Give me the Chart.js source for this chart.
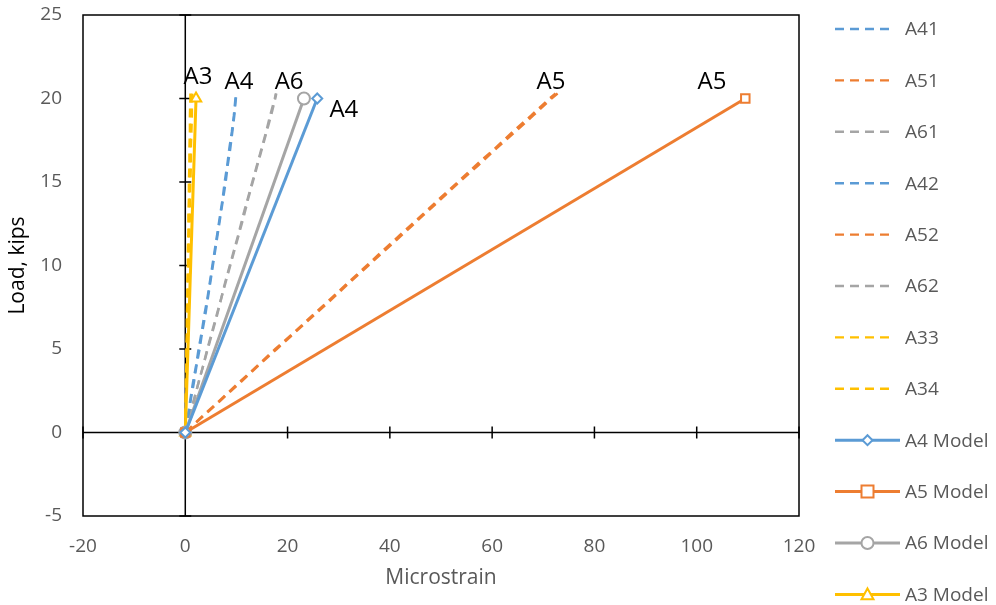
<!DOCTYPE html>
<html lang="en">
<head>
<meta charset="utf-8"/>
<title>Load vs Microstrain</title>
<script src="https://cdn.jsdelivr.net/npm/chart.js"></script>
<style>
html, body { margin: 0; padding: 0; background: #ffffff; }
.wrap { width: 996px; height: 605px; position: relative; }
</style>
</head>
<body>
<div class="wrap"><canvas id="chart"></canvas></div>
<script>
// measured load steps, kips
const testLoad = [0, 1, 2, 3, 4, 5, 6, 7, 8, 9, 10, 11, 12, 13, 14, 15, 16, 17, 18, 19, 20, 20.3];

// gauge readings, microstrain
const a41 = [0, 0.6, 1.1, 1.7, 2.2, 2.8, 3.3, 3.9, 4.4, 4.9, 5.4, 5.9, 6.4, 6.9, 7.4, 7.9, 8.3, 8.8, 9.2, 9.6, 9.9, 10.0];
const a51 = [0, 3.4, 7.0, 10.5, 14.1, 17.6, 21.3, 24.8, 28.4, 31.9, 35.5, 39.0, 42.6, 46.2, 49.7, 53.3, 56.8, 60.5, 64.0, 67.7, 71.2, 72.4];
const a61 = [0, 0.9, 1.8, 2.6, 3.5, 4.4, 5.3, 6.2, 7.0, 7.9, 8.8, 9.7, 10.6, 11.5, 12.3, 13.2, 14.1, 15.0, 15.9, 16.8, 17.6, 17.8];
const a42 = [0, 0.5, 1.0, 1.5, 2.1, 2.6, 3.2, 3.7, 4.3, 4.8, 5.3, 5.8, 6.3, 6.8, 7.3, 7.7, 8.2, 8.6, 9.1, 9.5, 9.8, 9.9];
const a52 = [0, 3.6, 7.2, 10.8, 14.3, 17.9, 21.5, 25.1, 28.7, 32.2, 35.8, 39.4, 43.0, 46.5, 50.1, 53.6, 57.3, 60.8, 64.5, 68.1, 71.6, 72.8];
const a62 = [0, 0.8, 1.7, 2.6, 3.5, 4.3, 5.2, 6.1, 7.0, 7.8, 8.7, 9.6, 10.5, 11.3, 12.2, 13.1, 14.0, 14.9, 15.8, 16.6, 17.5, 17.7];
const a33 = [0, 0.1, 0.1, 0.2, 0.3, 0.3, 0.4, 0.5, 0.5, 0.6, 0.7, 0.7, 0.8, 0.9, 0.9, 1.0, 1.1, 1.1, 1.2, 1.3, 1.3, 1.4];
const a34 = [0, 0.0, 0.1, 0.1, 0.2, 0.2, 0.3, 0.3, 0.4, 0.4, 0.5, 0.5, 0.6, 0.6, 0.7, 0.7, 0.8, 0.8, 0.9, 0.9, 1.0, 1.0];

// model lines: two end points each
const modelLoad = [0, 20];
const a4Model = [0, 25.8];
const a5Model = [0, 109.5];
const a6Model = [0, 23.2];
const a3Model = [0, 2.1];

// curve labels written on the plot
const noteText = ["A3", "A4", "A6", "A4", "A5", "A5"];
const noteX = [2.5, 10.5, 20.3, 31, 71.5, 103];
const noteY = [21.3, 21.0, 21.0, 19.3, 21, 21];

const xTicks = [-20, 0, 20, 40, 60, 80, 100, 120];
const yTicks = [-5, 0, 5, 10, 15, 20, 25];

const BLUE = "#5B9BD5", ORANGE = "#ED7D31", GREY = "#A5A5A5", YELLOW = "#FFC000";
const FONT = "'Open Sans', sans-serif";

function pts(xs, ys) {
  return xs.map((x, i) => ({ x: x, y: ys[i] }));
}

function test(label, vals, color) {
  return {
    label: label, data: pts(vals, testLoad), borderColor: color, backgroundColor: color,
    borderWidth: 2.4, borderDash: [9, 6], pointRadius: 0, showLine: true, order: 1
  };
}

function model(label, vals, color, style, r) {
  return {
    label: label, data: pts(vals, modelLoad), borderColor: color, backgroundColor: "#ffffff",
    borderWidth: 3, pointStyle: style, pointRadius: r, pointBorderWidth: 2,
    pointBorderColor: color, pointBackgroundColor: "#ffffff", showLine: true, order: 0
  };
}

function marker(ctx, style, x, y, r) {
  ctx.beginPath();
  if (style === "circle") {
    ctx.arc(x, y, r, 0, Math.PI * 2);
  } else if (style === "rect") {
    ctx.rect(x - r, y - r, 2 * r, 2 * r);
  } else if (style === "rectRot") {
    ctx.moveTo(x, y - r); ctx.lineTo(x + r, y); ctx.lineTo(x, y + r); ctx.lineTo(x - r, y); ctx.closePath();
  } else if (style === "triangle") {
    ctx.moveTo(x, y - r); ctx.lineTo(x + r, y + r * 0.8); ctx.lineTo(x - r, y + r * 0.8); ctx.closePath();
  }
  ctx.fill();
  ctx.stroke();
}

// frame, zero axes with cross ticks
const axesPlugin = {
  id: "zeroAxes",
  beforeDatasetsDraw(chart) {
    const ctx = chart.ctx, a = chart.chartArea;
    const xs = chart.scales.x, ys = chart.scales.y;
    const x0 = xs.getPixelForValue(0), y0 = ys.getPixelForValue(0);
    ctx.save();
    ctx.strokeStyle = "#000000";
    ctx.lineWidth = 1.5;
    ctx.strokeRect(a.left, a.top, a.right - a.left, a.bottom - a.top);
    ctx.beginPath();
    ctx.moveTo(a.left, y0); ctx.lineTo(a.right, y0);
    ctx.moveTo(x0, a.top); ctx.lineTo(x0, a.bottom);
    xTicks.forEach(v => {
      const p = xs.getPixelForValue(v);
      ctx.moveTo(p, y0 - 6); ctx.lineTo(p, y0 + 6);
    });
    yTicks.forEach(v => {
      const p = ys.getPixelForValue(v);
      ctx.moveTo(x0 - 6, p); ctx.lineTo(x0 + 6, p);
    });
    ctx.stroke();
    ctx.restore();
  },
  afterDatasetsDraw(chart) {
    const ctx = chart.ctx;
    const xs = chart.scales.x, ys = chart.scales.y;
    ctx.save();
    ctx.fillStyle = "#000000";
    ctx.font = "24px " + FONT;
    ctx.textAlign = "center";
    ctx.textBaseline = "middle";
    noteText.forEach((t, i) => {
      ctx.fillText(t, xs.getPixelForValue(noteX[i]), ys.getPixelForValue(noteY[i]));
    });
    ctx.restore();
  }
};

// legend column on the right: line sample, marker, name
const legendPlugin = {
  id: "sideLegend",
  afterDraw(chart) {
    const ctx = chart.ctx, a = chart.chartArea;
    const left = a.right + 36, top = 29, step = 51.4;
    ctx.save();
    ctx.font = "19px " + FONT;
    ctx.textBaseline = "middle";
    chart.data.datasets.forEach((ds, i) => {
      const y = top + i * step;
      const len = ds.pointStyle ? 65 : 60;
      ctx.strokeStyle = ds.borderColor;
      ctx.lineWidth = ds.borderWidth;
      ctx.setLineDash(ds.borderDash || []);
      ctx.beginPath();
      ctx.moveTo(left, y); ctx.lineTo(left + len, y);
      ctx.stroke();
      ctx.setLineDash([]);
      if (ds.pointStyle) {
        ctx.lineWidth = 2;
        ctx.fillStyle = "#ffffff";
        marker(ctx, ds.pointStyle, left + len / 2, y, ds.pointRadius);
      }
      ctx.fillStyle = "#595959";
      ctx.fillText(ds.label, left + 70, y + 1);
    });
    ctx.restore();
  }
};

new Chart(document.getElementById("chart"), {
  type: "scatter",
  data: {
    datasets: [
      test("A41", a41, BLUE),
      test("A51", a51, ORANGE),
      test("A61", a61, GREY),
      test("A42", a42, BLUE),
      test("A52", a52, ORANGE),
      test("A62", a62, GREY),
      test("A33", a33, YELLOW),
      test("A34", a34, YELLOW),
      model("A4 Model", a4Model, BLUE, "rectRot", 5),
      model("A5 Model", a5Model, ORANGE, "rect", 6),
      model("A6 Model", a6Model, GREY, "circle", 6),
      model("A3 Model", a3Model, YELLOW, "triangle", 6)
    ]
  },
  options: {
    responsive: true,
    maintainAspectRatio: false,
    animation: false,
    layout: { padding: { left: 0, right: 197, top: 15, bottom: 0 } },
    plugins: {
      legend: { display: false },
      tooltip: { enabled: false }
    },
    elements: { line: { tension: 0 } },
    scales: {
      x: {
        type: "linear", min: -20, max: 120,
        afterBuildTicks: s => { s.ticks = xTicks.map(v => ({ value: v })); },
        afterFit: s => { s.height = 89; s.paddingLeft = 0; s.paddingRight = 0; },
        grid: { display: false, drawTicks: false },
        border: { display: false },
        ticks: { padding: 19, color: "#595959", font: { family: FONT, size: 19 } },
        title: { display: true, text: "Microstrain", color: "#595959",
                 font: { family: FONT, size: 21 }, padding: { top: 0, bottom: 14 } }
      },
      y: {
        type: "linear", min: -5, max: 25,
        afterBuildTicks: s => { s.ticks = yTicks.map(v => ({ value: v })); },
        afterFit: s => { s.width = 83; s.paddingTop = 0; s.paddingBottom = 0; },
        grid: { display: false, drawTicks: false },
        border: { display: false },
        ticks: { padding: 21, color: "#595959", font: { family: FONT, size: 19 } },
        title: { display: true, text: "Load, kips", color: "#000000",
                 font: { family: FONT, size: 21 }, padding: { top: 5, bottom: 0 } }
      }
    }
  },
  plugins: [axesPlugin, legendPlugin]
});
</script>
</body>
</html>
